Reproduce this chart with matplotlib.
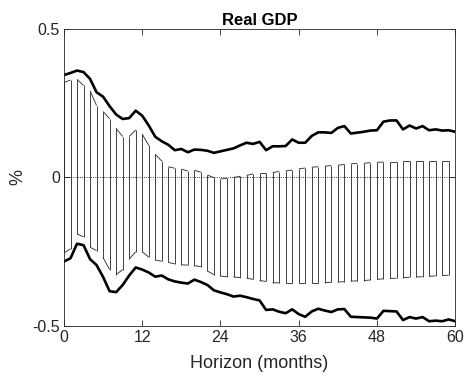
import numpy as np
import matplotlib.pyplot as plt
from matplotlib.collections import LineCollection

plt.rcParams['font.family'] = ['Liberation Sans', 'DejaVu Sans']

# horizon in months
horizon = np.arange(0, 61)

# outer band (solid lines)
upper_outer = [0.345, 0.352, 0.360, 0.355, 0.332, 0.287, 0.272, 0.240, 0.212, 0.197,
               0.200, 0.225, 0.208, 0.175, 0.137, 0.122, 0.110, 0.092, 0.096, 0.085,
               0.094, 0.093, 0.090, 0.083, 0.088, 0.093, 0.098, 0.108, 0.117, 0.113,
               0.120, 0.092, 0.105, 0.105, 0.106, 0.128, 0.117, 0.117, 0.140, 0.152,
               0.152, 0.150, 0.167, 0.173, 0.148, 0.151, 0.154, 0.158, 0.159, 0.188,
               0.192, 0.192, 0.162, 0.175, 0.165, 0.173, 0.159, 0.162, 0.158, 0.159,
               0.154]
lower_outer = [-0.283, -0.272, -0.223, -0.228, -0.275, -0.295, -0.335, -0.383, -0.386, -0.362,
               -0.330, -0.303, -0.310, -0.320, -0.334, -0.330, -0.343, -0.350, -0.354, -0.357,
               -0.344, -0.352, -0.362, -0.380, -0.387, -0.393, -0.401, -0.398, -0.403, -0.409,
               -0.414, -0.446, -0.444, -0.452, -0.457, -0.444, -0.460, -0.469, -0.451, -0.442,
               -0.448, -0.453, -0.444, -0.443, -0.469, -0.470, -0.471, -0.472, -0.475, -0.449,
               -0.450, -0.451, -0.480, -0.470, -0.475, -0.470, -0.484, -0.482, -0.484, -0.478,
               -0.484]

# inner band (hatched)
upper_inner = [0.320, 0.328, 0.330, 0.310, 0.292, 0.242, 0.222, 0.198, 0.165, 0.138,
               0.138, 0.160, 0.146, 0.108, 0.078, 0.055, 0.036, 0.031, 0.028, 0.022,
               0.024, 0.018, 0.008, 0.000, -0.005, -0.003, 0.000, 0.004, 0.007, 0.012,
               0.016, 0.016, 0.017, 0.020, 0.022, 0.025, 0.029, 0.032, 0.035, 0.036,
               0.038, 0.040, 0.041, 0.044, 0.046, 0.047, 0.048, 0.050, 0.051, 0.052,
               0.053, 0.053, 0.054, 0.054, 0.055, 0.055, 0.055, 0.055, 0.055, 0.055,
               0.055]
lower_inner = [-0.254, -0.240, -0.190, -0.200, -0.235, -0.246, -0.270, -0.310, -0.327, -0.310,
               -0.275, -0.250, -0.250, -0.268, -0.278, -0.282, -0.286, -0.291, -0.294, -0.295,
               -0.297, -0.300, -0.315, -0.327, -0.332, -0.334, -0.335, -0.337, -0.339, -0.343,
               -0.347, -0.350, -0.354, -0.355, -0.355, -0.355, -0.355, -0.355, -0.355, -0.355,
               -0.354, -0.353, -0.352, -0.351, -0.349, -0.348, -0.347, -0.345, -0.343, -0.341,
               -0.340, -0.339, -0.337, -0.336, -0.335, -0.334, -0.333, -0.331, -0.330, -0.329,
               -0.328]

fig = plt.figure(figsize=(4.66, 3.78), dpi=100)
ax = fig.add_axes([0.1373, 0.1376, 0.8395, 0.7857])

# vertical hatch lines at every month
ax.vlines(horizon, lower_inner, upper_inner, color='#333333', lw=0.65)

# dashed edges of inner band: segments on every other month
segs = []
for k in range(0, len(horizon) - 1, 2):
    segs.append([(horizon[k], upper_inner[k]), (horizon[k + 1], upper_inner[k + 1])])
    segs.append([(horizon[k], lower_inner[k]), (horizon[k + 1], lower_inner[k + 1])])
ax.add_collection(LineCollection(segs, colors='#333333', linewidths=0.65))

ax.plot(horizon, upper_outer, color='black', lw=1.9)
ax.plot(horizon, lower_outer, color='black', lw=1.9)

ax.axhline(0, color='black', lw=0.6, ls=':')

ax.set_xlim(0, 60)
ax.set_ylim(-0.5, 0.5)
ax.set_xticks([0, 12, 24, 36, 48, 60])
ax.set_yticks([-0.5, 0, 0.5])
ax.set_yticklabels(['-0.5', '0', '0.5'])
ax.tick_params(direction='in', length=4, width=0.6, labelsize=11.5, colors='#262626',
               top=True, right=True, pad=3)
for s in ax.spines.values():
    s.set_color('#262626')
    s.set_linewidth(0.6)

ax.set_xlabel('Horizon (months)', fontsize=13, color='#262626', labelpad=7)
ax.set_ylabel('%', fontsize=13, color='#262626', labelpad=4)
ax.set_title('Real GDP', fontsize=12, fontweight='bold', pad=3)

fig.savefig('out.png', dpi=100)
